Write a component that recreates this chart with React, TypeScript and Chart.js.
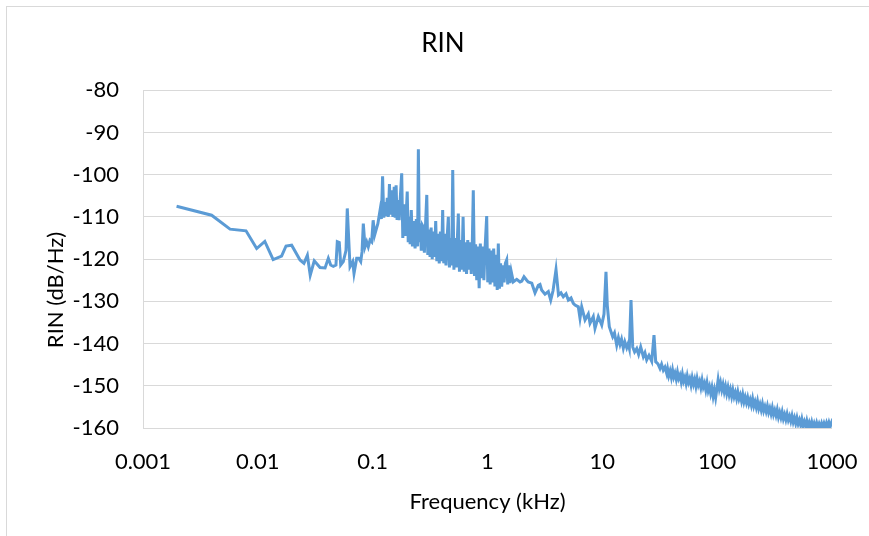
import React, { useEffect, useRef } from "react";
import { Chart, registerables } from "chart.js";

Chart.register(...registerables);

// Text
const chartTitle = "RIN";
const xAxisTitle = "Frequency (kHz)";
const yAxisTitle = "RIN (dB/Hz)";

// X axis (frequency, kHz, log scale) decade ticks
const xTickValues = [0.001, 0.01, 0.1, 1, 10, 100, 1000];
const xTickLabels = ["0.001", "0.01", "0.1", "1", "10", "100", "1000"];
const yMin = -160;
const yMax = -80;
const yStep = 10;

// [frequency kHz, RIN dB/Hz]
const lowBand: [number, number][] = [
  [0.00196, -107.5], [0.00396, -109.6], [0.00573, -112.9], [0.00789, -113.3], [0.00977, -117.5],
  [0.0115, -115.8], [0.0136, -120.1], [0.0161, -119.3], [0.0176, -116.9], [0.0197, -116.7],
  [0.0233, -120.2], [0.0252, -121.0], [0.027, -119.1], [0.0286, -123.8], [0.031, -120.4],
  [0.0348, -122.0], [0.0385, -122.1], [0.0411, -119.8], [0.0431, -121.4], [0.0454, -121.7],
  [0.0479, -121.4], [0.0492, -115.9], [0.0512, -116.1], [0.0527, -121.4], [0.0555, -120.6],
  [0.0586, -117.9], [0.0601, -108.0], [0.0635, -121.8], [0.067, -120.6], [0.0688, -123.4],
  [0.0726, -119.8], [0.0756, -119.8], [0.0787, -120.6], [0.0808, -118.3], [0.0829, -111.6],
  [0.0858, -117.1], [0.0887, -115.9], [0.0916, -117.1], [0.0948, -115.5], [0.098, -115.9],
];

const peakBand: [number, number][] = [
  [0.101, -110.8], [0.104, -114.3], [0.108, -112.7], [0.111, -111.6], [0.116, -108.4], [0.119, -110.5],
  [0.122, -100.4], [0.125, -110.2], [0.128, -106.5], [0.131, -109.8], [0.134, -105.5], [0.137, -110.0],
  [0.14, -102.2], [0.143, -109.5], [0.146, -103.7], [0.15, -110.0], [0.154, -102.9], [0.157, -110.2],
  [0.16, -102.5], [0.163, -110.4], [0.166, -106.0], [0.17, -110.8], [0.174, -105.5], [0.179, -99.7],
  [0.183, -115.0], [0.187, -107.0], [0.192, -114.5], [0.197, -108.0], [0.2, -104.0], [0.204, -116.0],
  [0.208, -110.0], [0.212, -116.5], [0.217, -108.4], [0.222, -117.0], [0.228, -111.0], [0.234, -117.5],
  [0.24, -110.5], [0.246, -117.0], [0.25, -94.0], [0.255, -116.0], [0.26, -111.5], [0.265, -118.0],
  [0.271, -112.0], [0.276, -112.4], [0.282, -118.5], [0.288, -112.5], [0.296, -104.8], [0.302, -119.0],
  [0.309, -113.0], [0.316, -119.5], [0.323, -112.5], [0.33, -120.0], [0.338, -113.5], [0.346, -119.5],
  [0.354, -111.0], [0.362, -120.5], [0.371, -114.0], [0.38, -121.0], [0.389, -113.5], [0.398, -120.5],
  [0.407, -108.4], [0.416, -121.0], [0.425, -114.0], [0.435, -121.5], [0.446, -114.5], [0.456, -110.0],
  [0.466, -122.0], [0.477, -115.0], [0.488, -121.5], [0.498, -98.9], [0.51, -122.5], [0.522, -115.0],
  [0.535, -122.0], [0.546, -115.5], [0.557, -109.2], [0.57, -123.0], [0.584, -115.5], [0.598, -122.5],
  [0.613, -110.0], [0.627, -123.0], [0.642, -116.0], [0.657, -123.5], [0.673, -115.5], [0.689, -122.5],
  [0.705, -116.0], [0.722, -123.5], [0.737, -116.5], [0.752, -103.7], [0.77, -124.0], [0.788, -116.5],
  [0.806, -125.0], [0.826, -117.0], [0.846, -126.9], [0.866, -116.3], [0.887, -124.5], [0.908, -117.0],
  [0.93, -125.0], [0.952, -117.5], [0.984, -109.8], [1.005, -125.5], [1.03, -117.5], [1.055, -126.0],
  [1.08, -118.0], [1.105, -125.5], [1.132, -117.5], [1.16, -126.5], [1.19, -119.0], [1.215, -127.3],
  [1.242, -116.3], [1.27, -127.0], [1.3, -121.0], [1.33, -126.5], [1.36, -121.5], [1.395, -125.5],
  [1.43, -121.0], [1.469, -120.2], [1.5, -126.0], [1.53, -121.5], [1.571, -125.7], [1.61, -123.0],
];

const midBand: [number, number][] = [
  [1.678, -125.4], [1.797, -124.8], [1.92, -125.4], [1.99, -125.2], [2.08, -124.2], [2.195, -125.0],
  [2.26, -125.4], [2.43, -125.7], [2.593, -128.0], [2.77, -126.2], [2.865, -126.0], [2.96, -127.3],
  [3.168, -128.3], [3.385, -127.7], [3.552, -129.7], [3.72, -127.5], [3.95, -122.5], [4.152, -128.5],
  [4.365, -128.0], [4.57, -128.9], [4.83, -128.2], [5.055, -129.7], [5.336, -129.2], [5.587, -130.5],
  [5.782, -130.9], [6.178, -131.3], [6.39, -134.0], [6.61, -131.3], [7.07, -134.4], [7.55, -133.0],
  [7.81, -135.2], [8.34, -133.6], [8.63, -136.4], [9.23, -133.6], [9.88, -135.6], [10.34, -133.0],
  [10.76, -123.0], [11.05, -131.0], [11.5, -136.0], [12.31, -138.4], [12.76, -137.5], [13.34, -140.4],
  [13.8, -138.6], [14.26, -140.2], [14.7, -139.0], [15.23, -141.1], [15.7, -139.6], [16.31, -141.0],
  [16.8, -140.0], [17.18, -141.1], [17.77, -129.7], [18.39, -140.8], [19.1, -142.0], [19.93, -141.2],
  [20.7, -142.6], [21.58, -140.8], [22.75, -143.1], [23.5, -142.2], [24.34, -143.9], [25.49, -142.8],
  [26.92, -144.2], [28.18, -138.0], [29.16, -144.3], [30.5, -144.8], [31.78, -145.9], [32.8, -144.9],
  [33.96, -146.3], [35.1, -145.6], [36.36, -147.1],
];

const highBand: [number, number][] = [
  [37, -146.0], [37.9, -147.6], [38.9, -146.5], [39.9, -148.0], [40.9, -146.3], [41.9, -147.9],
  [42.9, -147.0], [44, -148.4], [45.1, -146.8], [46.2, -148.3], [47.4, -147.5], [48.6, -149.0],
  [49.8, -147.3], [51, -148.9], [52.3, -148.0], [53.6, -149.4], [54.9, -147.7], [56.3, -149.2],
  [57.7, -148.3], [59.2, -149.8], [60.6, -148.1], [62.2, -149.6], [63.7, -148.5], [65.3, -150.1],
  [66.9, -148.3], [68.6, -149.8], [70.3, -148.9], [72.1, -150.4], [73.9, -148.7], [75.7, -150.3],
  [77.6, -149.4], [79.6, -151.0], [81.6, -149.3], [83.6, -151.2], [85.7, -150.2], [87.8, -151.8],
  [90, -150.4], [92.3, -152.5], [94.6, -151.0], [97, -152.8], [99.4, -150.8], [101.9, -148.6],
  [104.4, -150.6], [107, -149.3], [109.7, -151.0], [112.5, -149.7], [115.3, -151.4], [118.2, -150.1],
  [121.1, -151.8], [124.2, -150.4], [127.3, -152.1], [130.4, -150.9], [133.7, -152.5], [137, -151.0],
  [140.5, -152.6], [144, -151.6], [147.6, -153.0], [151.3, -151.5], [155.1, -153.1], [158.9, -152.2],
  [162.9, -153.6], [167, -152.1], [171.2, -153.8], [175.4, -152.7], [179.8, -154.0], [184.3, -152.8],
  [188.9, -154.3], [193.7, -153.3], [198.5, -154.6], [203.5, -153.1], [208.6, -154.8], [213.8, -153.8],
  [219.1, -155.1], [224.6, -153.7], [230.2, -155.4], [236, -154.4], [241.9, -155.7], [247.9, -154.3],
  [254.1, -155.9], [260.5, -154.9], [267, -156.1], [273.7, -154.8], [280.5, -156.3], [287.5, -155.3],
  [294.7, -156.6], [302.1, -155.2], [309.6, -156.8], [317.4, -155.8], [325.3, -157.0], [333.4, -155.7],
  [341.8, -157.4], [350.3, -156.3], [359.1, -157.5], [368.1, -156.2], [377.3, -157.8], [386.7, -156.8],
  [396.4, -158.0], [406.3, -156.7], [416.5, -158.1], [426.9, -157.2], [437.6, -158.4], [448.5, -157.1],
  [459.7, -158.6], [471.2, -157.6], [483, -158.9], [495.1, -157.6], [507.5, -159.0], [520.2, -158.1],
  [533.2, -159.3], [546.5, -157.9], [560.2, -159.4], [574.2, -158.5], [588.6, -159.6], [603.3, -158.3],
  [618.4, -159.7], [633.8, -158.7], [649.7, -159.8], [665.9, -158.6], [682.6, -159.9], [699.6, -158.9],
  [717.1, -159.9], [735, -158.8], [753.4, -159.9], [772.2, -159.0], [791.5, -159.9], [811.3, -158.9],
  [831.6, -159.9], [852.4, -158.9], [873.7, -159.8], [895.5, -158.8], [917.9, -159.8], [940.9, -158.7],
  [964.4, -159.7], [988.5, -158.8], [1000, -159.3],
];

const FONT = "Lato, 'Open Sans', sans-serif";

const yTitlePlugin = {
  id: "yTitleCustom",
  afterDraw(chart: any) {
    const ctx = chart.ctx;
    ctx.save();
    ctx.translate(56, 290);
    ctx.rotate(-Math.PI / 2);
    ctx.font = `normal 22px ${FONT}`;
    ctx.fillStyle = "#000";
    ctx.textAlign = "center";
    ctx.textBaseline = "middle";
    ctx.fillText(yAxisTitle, 0, 0);
    ctx.restore();
  },
};

export default function App() {
  const ref = useRef<HTMLCanvasElement>(null);

  useEffect(() => {
    const points = [...lowBand, ...peakBand, ...midBand, ...highBand].map(([x, y]) => ({ x, y }));
    const tickFont = { family: FONT, size: 22, weight: "normal" as const };
    const chart = new Chart(ref.current!, {
      type: "scatter",
      data: {
        datasets: [
          {
            data: points,
            showLine: true,
            borderColor: "#5B9BD5",
            backgroundColor: "#5B9BD5",
            borderWidth: 3,
            pointRadius: 0,
            pointHoverRadius: 0,
            fill: false,
            tension: 0,
          },
        ],
      },
      plugins: [yTitlePlugin],
      options: {
        responsive: false,
        animation: false,
        devicePixelRatio: 1,
        layout: { padding: { left: 54, right: 37, top: 0, bottom: 0 } },
        plugins: {
          legend: { display: false },
          tooltip: { enabled: false },
          title: {
            display: true,
            text: chartTitle,
            color: "#000",
            font: { family: FONT, size: 26, weight: "normal" },
            padding: { top: 28, bottom: 31 },
          },
        },
        scales: {
          x: {
            type: "logarithmic",
            min: xTickValues[0],
            max: xTickValues[xTickValues.length - 1],
            afterBuildTicks: (axis: any) => {
              axis.ticks = xTickValues.map((v) => ({ value: v }));
            },
            afterFit: (axis: any) => {
              axis.height = 108;
              axis.paddingLeft = 0;
              axis.paddingRight = 0;
            },
            ticks: {
              autoSkip: false,
              maxRotation: 0,
              padding: 21,
              color: "#000",
              font: tickFont,
              callback: (_v: any, i: number) => xTickLabels[i],
            },
            grid: { display: false, drawTicks: false },
            border: { display: false },
            title: {
              display: true,
              text: xAxisTitle,
              color: "#000",
              font: tickFont,
              padding: { top: 0, bottom: 21 },
            },
          },
          y: {
            min: yMin,
            max: yMax,
            afterFit: (axis: any) => {
              axis.width = 89;
            },
            ticks: { stepSize: yStep, padding: 24, color: "#000", font: tickFont },
            grid: { color: "#d9d9d9", lineWidth: 1, drawTicks: false },
            border: { display: true, color: "#d9d9d9" },
            title: { display: false },
          },
        },
      },
    });
    return () => chart.destroy();
  }, []);

  return (
    <div>
      <div
        style={{
          position: "absolute",
          left: 6,
          top: 6,
          width: 900,
          height: 600,
          border: "1px solid #d9d9d9",
          boxSizing: "border-box",
        }}
      />
      <canvas
        ref={ref}
        width={869}
        height={536}
        style={{ position: "absolute", left: 0, top: 0, width: 869, height: 536 }}
      />
    </div>
  );
}
